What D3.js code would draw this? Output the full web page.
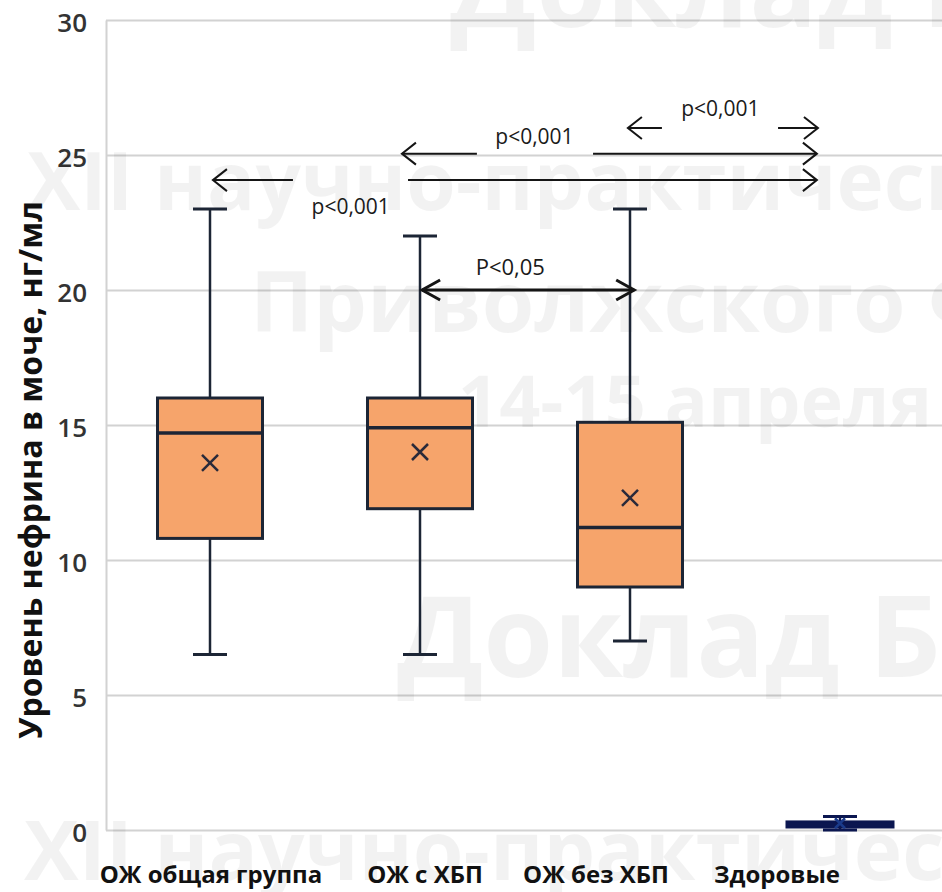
<!DOCTYPE html>
<html>
<head>
<meta charset="utf-8">
<script src="https://cdn.jsdelivr.net/npm/d3@7"></script>
<style>
  body { margin: 0; background: #fff; }
  svg { display: block; }
</style>
</head>
<body>
<div id="chart"></div>
<script>
// Data
const categories = ['ОЖ общая группа', 'ОЖ с ХБП', 'ОЖ без ХБП', 'Здоровые'];
const whiskerLow = [6.5, 6.5, 7.0, 0.0];
const q1 = [10.8, 11.9, 9.0, 0.13];
const median = [14.7, 14.9, 11.2, 0.2];
const q3 = [16.0, 16.0, 15.1, 0.28];
const whiskerHigh = [23.0, 22.0, 23.0, 0.5];
const means = [13.6, 14.0, 12.3, 0.25];

const yTicks = [0, 5, 10, 15, 20, 25, 30];
const yTitle = 'Уровень нефрина в моче, нг/мл';

// significance marks: text, level (y units), arrow segments (category index units)
const sigText = ['p<0,001', 'p<0,001', 'p<0,001', 'P<0,05'];
const sigLevel = [24.07, 25.05, 26.0, 20.0];
const sigSegments = [
  [[0.014, 0.395], [0.943, 2.89]],
  [[0.914, 1.271], [1.824, 2.89]],
  [[1.99, 2.152], [2.705, 2.895]],
  [[1.01, 2.02]]
];
const sigTextAt = [[0.67, 22.81], [1.545, 25.41], [2.43, 26.44], [1.43, 20.56]];

// watermark of the slide
const watermark = ['Доклад Б', 'XII научно-практическ', 'Приволжского Ф', '14-15 апреля', 'Доклад Б', 'XII научно-практическ'];

const width = 942, height = 892;

const svg = d3.select('#chart').append('svg')
  .attr('width', width)
  .attr('height', height)
  .style('font-family', '"Open Sans", sans-serif');

const y = d3.scaleLinear().domain([0, 30]).range([830, 20]);
const x = d3.scaleBand().domain(categories).range([105, 945]);
const cx = d => x(d) + x.bandwidth() / 2;
const ix = d3.scaleLinear()
  .domain([0, categories.length - 1])
  .range([cx(categories[0]), cx(categories[categories.length - 1])]);

// axis + gridlines
const yAxis = d3.axisLeft(y)
  .tickValues(yTicks)
  .tickSize(-(width - 106))
  .tickSizeOuter(0)
  .tickPadding(19);

const axisG = svg.append('g')
  .attr('transform', 'translate(106,0)')
  .call(yAxis);
axisG.select('.domain').attr('stroke', '#d2d2d2').attr('stroke-width', 2);
axisG.selectAll('.tick line').attr('stroke', '#d2d2d2').attr('stroke-width', 2);
axisG.selectAll('.tick text')
  .attr('fill', '#333')
  .attr('dy', '0.45em')
  .style('font-size', '26px')
  .style('font-weight', 600)
  .style('font-family', '"Open Sans", sans-serif');

// watermark (very light, above the grid)
const wmX = [450, 27, 250, 458, 397, 24];
const wmY = [27, 210, 332, 427, 677, 880];
const wmSize = [113, 80, 85, 72, 113, 82];
svg.append('g')
  .selectAll('text')
  .data(watermark)
  .join('text')
  .attr('x', (d, i) => wmX[i])
  .attr('y', (d, i) => wmY[i])
  .style('font-size', (d, i) => wmSize[i] + 'px')
  .style('font-weight', 700)
  .attr('fill', '#000')
  .attr('fill-opacity', 0.05)
  .text(d => d);

// boxes
const boxW = x.bandwidth() * 0.5;
const capW = 34;
const ink = (i) => i === 3 ? '#0b1650' : '#1c2535';

const boxes = svg.append('g')
  .selectAll('g')
  .data(categories)
  .join('g');

boxes.append('line')
  .attr('x1', d => cx(d)).attr('x2', d => cx(d))
  .attr('y1', (d, i) => y(whiskerHigh[i])).attr('y2', (d, i) => y(q3[i]))
  .attr('stroke', (d, i) => ink(i)).attr('stroke-width', 2.5);
boxes.append('line')
  .attr('x1', d => cx(d)).attr('x2', d => cx(d))
  .attr('y1', (d, i) => y(q1[i])).attr('y2', (d, i) => y(whiskerLow[i]))
  .attr('stroke', (d, i) => ink(i)).attr('stroke-width', 2.5);
boxes.append('line')
  .attr('x1', d => cx(d) - capW / 2).attr('x2', d => cx(d) + capW / 2)
  .attr('y1', (d, i) => y(whiskerHigh[i])).attr('y2', (d, i) => y(whiskerHigh[i]))
  .attr('stroke', (d, i) => ink(i)).attr('stroke-width', 3);
boxes.append('line')
  .attr('x1', d => cx(d) - capW / 2).attr('x2', d => cx(d) + capW / 2)
  .attr('y1', (d, i) => y(whiskerLow[i])).attr('y2', (d, i) => y(whiskerLow[i]))
  .attr('stroke', (d, i) => ink(i)).attr('stroke-width', 3);

boxes.append('rect')
  .attr('x', d => cx(d) - boxW / 2)
  .attr('width', boxW)
  .attr('y', (d, i) => y(q3[i]))
  .attr('height', (d, i) => y(q1[i]) - y(q3[i]))
  .attr('fill', '#f6a46b')
  .attr('stroke', (d, i) => ink(i))
  .attr('stroke-width', (d, i) => i === 3 ? 4 : 3);

boxes.append('line')
  .attr('x1', d => cx(d) - boxW / 2).attr('x2', d => cx(d) + boxW / 2)
  .attr('y1', (d, i) => y(median[i])).attr('y2', (d, i) => y(median[i]))
  .attr('stroke', (d, i) => ink(i)).attr('stroke-width', 3.5);

// mean markers
const m = 8;
boxes.append('path')
  .attr('d', (d, i) => {
    const px = cx(d), py = y(means[i]);
    const s = i === 3 ? 5 : m;
    return `M${px - s},${py - s}L${px + s},${py + s}M${px - s},${py + s}L${px + s},${py - s}`;
  })
  .attr('stroke', (d, i) => i === 3 ? '#1a3a8a' : '#2a2a3a')
  .attr('stroke-width', 2.5)
  .attr('fill', 'none');

// category labels (text sits a bit off the boxes in the original)
const labelNudge = [1, 5, -34, -63];
svg.append('g')
  .selectAll('text')
  .data(categories)
  .join('text')
  .attr('x', (d, i) => cx(d) + labelNudge[i])
  .attr('y', 883)
  .attr('text-anchor', 'middle')
  .style('font-size', '24px')
  .style('font-weight', 700)
  .attr('fill', '#111')
  .text(d => d);

// y title
svg.append('text')
  .attr('transform', 'translate(42,470) rotate(-90)')
  .attr('text-anchor', 'middle')
  .style('font-size', '32px')
  .style('font-weight', 700)
  .attr('fill', '#111')
  .text(yTitle);

// significance arrows
function chevron(g, xt, yt, dir, len, half, sw) {
  g.append('path')
    .attr('d', `M${xt - dir * len},${yt - half}L${xt},${yt}L${xt - dir * len},${yt + half}`)
    .attr('fill', 'none')
    .attr('stroke', '#151515')
    .attr('stroke-width', sw)
    .attr('stroke-linejoin', 'miter');
}

const sigG = svg.append('g');
sigSegments.forEach((segs, k) => {
  const yy = y(sigLevel[k]);
  const thick = k === 3;
  const sw = thick ? 3 : 2;
  segs.forEach(s => {
    sigG.append('line')
      .attr('x1', ix(s[0])).attr('x2', ix(s[1]))
      .attr('y1', yy).attr('y2', yy)
      .attr('stroke', '#151515')
      .attr('stroke-width', sw);
  });
  const first = segs[0][0];
  const last = segs[segs.length - 1][1];
  if (thick) {
    chevron(sigG, ix(first), yy, -1, 18, 10, sw);
    chevron(sigG, ix(last), yy, 1, 18, 10, sw);
  } else {
    chevron(sigG, ix(first), yy, -1, 14, 11, sw);
    chevron(sigG, ix(last), yy, 1, 14, 11, sw);
  }
  sigG.append('text')
    .attr('x', ix(sigTextAt[k][0]))
    .attr('y', y(sigTextAt[k][1]))
    .attr('text-anchor', 'middle')
    .style('font-size', thick ? '22px' : '21px')
    .attr('fill', '#1a1a1a')
    .text(sigText[k]);
});
</script>
</body>
</html>
